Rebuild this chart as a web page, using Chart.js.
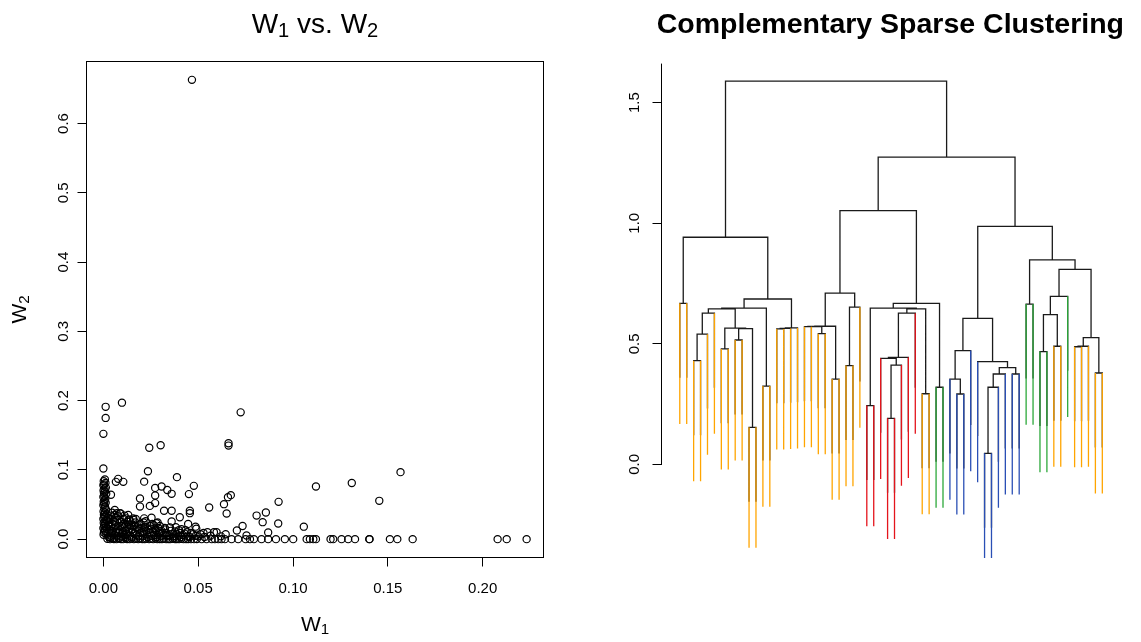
<!DOCTYPE html>
<html>
<head>
<meta charset="utf-8">
<title>W1 vs. W2 / Complementary Sparse Clustering</title>
<script src="https://cdn.jsdelivr.net/npm/chart.js@4.4.1/dist/chart.umd.min.js"></script>
<style>
  html, body { margin: 0; padding: 0; background: #fff; }
  #wrap { position: relative; width: 1141px; height: 642px; }
  #wrap canvas { position: absolute; left: 0; top: 0; }
</style>
</head>
<body>
<div id="wrap">
  <canvas id="scatterChart" width="1141" height="642"></canvas>
  <canvas id="dendroChart" width="1141" height="642"></canvas>
</div>
<script>
const FONT = '"Liberation Sans", Arial, Helvetica, sans-serif';

// feature weights as [W1, W2] pairs
const spreadPts = [
  [0.0467, 0.663], [0.0012, 0.191], [0.0012, 0.175], [0.0000, 0.152], [0.0098, 0.197],
  [0.0000, 0.102], [0.0242, 0.132], [0.0302, 0.1356], [0.0724, 0.183], [0.0660, 0.1385],
  [0.0660, 0.135], [0.0235, 0.098], [0.0388, 0.0895], [0.0078, 0.087], [0.0066, 0.0827],
  [0.0105, 0.0827], [0.0215, 0.083], [0.0477, 0.0769], [0.0273, 0.074], [0.0307, 0.076],
  [0.0337, 0.071], [0.0360, 0.0654], [0.0451, 0.065], [0.0273, 0.063], [0.0040, 0.064],
  [0.0672, 0.0635], [0.0657, 0.0606], [0.1121, 0.076], [0.1310, 0.081], [0.1455, 0.0553],
  [0.1567, 0.0967], [0.0193, 0.0586], [0.0193, 0.047], [0.0245, 0.048], [0.0273, 0.052],
  [0.0320, 0.041], [0.0360, 0.041], [0.0456, 0.041], [0.0456, 0.0375], [0.0558, 0.0456],
  [0.0636, 0.0505], [0.0650, 0.037], [0.0924, 0.0538], [0.0857, 0.0384], [0.0808, 0.034],
  [0.0840, 0.0245], [0.0922, 0.0225], [0.1057, 0.018], [0.0734, 0.019], [0.0704, 0.0124],
  [0.0869, 0.0095], [0.0755, 0.0052], [0.0583, 0.0101], [0.0597, 0.0101], [0.0403, 0.0317],
  [0.0360, 0.0254], [0.0447, 0.022], [0.0486, 0.018], [0.0490, 0.0149], [0.0412, 0.0144],
  [0.0382, 0.0173], [0.0254, 0.031], [0.0215, 0.030], [0.0280, 0.023], [0.0157, 0.030],
  [0.0136, 0.028], [0.0060, 0.042], [0.0070, 0.0375], [0.0087, 0.0375], [0.0298, 0.019],
  [0.0324, 0.016], [0.0219, 0.018]
];
const nearW1Zero = [
  [0.0008, 0.0862], [0.0002, 0.0835], [0.0011, 0.0812], [0.0004, 0.0791], [0.0000, 0.0779],
  [0.0013, 0.0744], [0.0006, 0.0731], [0.0001, 0.0702], [0.0009, 0.0686], [0.0003, 0.0668],
  [0.0015, 0.0655], [0.0005, 0.0621], [0.0000, 0.0607], [0.0010, 0.0583], [0.0007, 0.0559],
  [0.0002, 0.0541], [0.0012, 0.0527], [0.0004, 0.0512], [0.0000, 0.0489], [0.0009, 0.0466],
  [0.0006, 0.0441], [0.0014, 0.0423], [0.0001, 0.0398], [0.0008, 0.0385], [0.0003, 0.0352],
  [0.0011, 0.0337], [0.0005, 0.0316], [0.0000, 0.0291], [0.0016, 0.0276], [0.0007, 0.0258],
  [0.0002, 0.0233], [0.0010, 0.0219], [0.0004, 0.0194], [0.0013, 0.0181], [0.0000, 0.0157],
  [0.0006, 0.0139], [0.0009, 0.0118], [0.0003, 0.0096], [0.0012, 0.0081], [0.0001, 0.0063]
];
const lowCluster = [
  [0.0025, 0.031], [0.0031, 0.024], [0.0038, 0.018], [0.0044, 0.011], [0.0052, 0.027],
  [0.0058, 0.006], [0.0063, 0.020], [0.0071, 0.014], [0.0077, 0.033], [0.0083, 0.009],
  [0.0089, 0.025], [0.0094, 0.004], [0.0101, 0.017], [0.0108, 0.029], [0.0113, 0.012],
  [0.0119, 0.022], [0.0124, 0.007], [0.0131, 0.035], [0.0137, 0.015], [0.0142, 0.026],
  [0.0149, 0.003], [0.0155, 0.010], [0.0161, 0.019], [0.0168, 0.024], [0.0174, 0.006],
  [0.0181, 0.013], [0.0187, 0.021], [0.0193, 0.009], [0.0201, 0.016], [0.0208, 0.004],
  [0.0214, 0.011], [0.0223, 0.026], [0.0231, 0.007], [0.0238, 0.014], [0.0246, 0.019],
  [0.0254, 0.005], [0.0263, 0.010], [0.0272, 0.015], [0.0281, 0.003], [0.0293, 0.008],
  [0.0306, 0.012], [0.0318, 0.006], [0.0332, 0.009], [0.0347, 0.004], [0.0361, 0.007],
  [0.0379, 0.011], [0.0394, 0.005], [0.0411, 0.003], [0.0428, 0.008], [0.0446, 0.004],
  [0.0017, 0.015], [0.0022, 0.008], [0.0028, 0.003], [0.0046, 0.038], [0.0036, 0.029],
  [0.0064, 0.031], [0.0091, 0.037], [0.0105, 0.022], [0.0054, 0.016], [0.0078, 0.019],
  [0.0122, 0.030], [0.0135, 0.021], [0.0158, 0.028], [0.0176, 0.017], [0.0197, 0.022],
  [0.0219, 0.017], [0.0244, 0.010], [0.0266, 0.020], [0.0289, 0.016], [0.0301, 0.004],
  [0.0325, 0.014], [0.0356, 0.012], [0.0372, 0.002], [0.0404, 0.009], [0.0433, 0.013],
  [0.0461, 0.009], [0.0487, 0.005], [0.0512, 0.007], [0.0533, 0.003], [0.0549, 0.010],
  [0.0565, 0.005], [0.0620, 0.004], [0.0645, 0.007], [0.0033, 0.012], [0.0041, 0.005],
  [0.0057, 0.002], [0.0069, 0.009], [0.0086, 0.013], [0.0098, 0.008], [0.0116, 0.003],
  [0.0030, 0.021], [0.0042, 0.034], [0.0049, 0.022], [0.0061, 0.025], [0.0066, 0.011],
  [0.0074, 0.005], [0.0080, 0.028], [0.0096, 0.019], [0.0103, 0.010], [0.0111, 0.034],
  [0.0127, 0.018], [0.0133, 0.010], [0.0145, 0.020], [0.0152, 0.014], [0.0164, 0.008],
  [0.0171, 0.029], [0.0185, 0.004], [0.0190, 0.015], [0.0205, 0.010], [0.0212, 0.024],
  [0.0226, 0.012], [0.0235, 0.003], [0.0249, 0.015], [0.0258, 0.022], [0.0269, 0.006],
  [0.0277, 0.012], [0.0286, 0.024], [0.0296, 0.011], [0.0312, 0.009], [0.0338, 0.006],
  [0.0351, 0.017], [0.0368, 0.004], [0.0385, 0.008], [0.0398, 0.013], [0.0418, 0.006],
  [0.0441, 0.010], [0.0455, 0.003], [0.0472, 0.007], [0.0502, 0.004], [0.0528, 0.009],
  [0.0018, 0.036], [0.0020, 0.027], [0.0026, 0.019], [0.0039, 0.002], [0.0047, 0.009],
  [0.0060, 0.035], [0.0084, 0.002], [0.0112, 0.006], [0.0128, 0.025], [0.0141, 0.005]
];
const nearW2Zero = [
  [0.0021, 0.0006], [0.0035, 0.0000], [0.0048, 0.0011], [0.0056, 0.0002], [0.0069, 0.0000],
  [0.0081, 0.0009], [0.0093, 0.0001], [0.0104, 0.0000], [0.0117, 0.0012], [0.0125, 0.0003],
  [0.0138, 0.0000], [0.0149, 0.0008], [0.0161, 0.0000], [0.0172, 0.0005], [0.0184, 0.0000],
  [0.0193, 0.0010], [0.0206, 0.0002], [0.0218, 0.0000], [0.0227, 0.0007], [0.0241, 0.0000],
  [0.0252, 0.0004], [0.0263, 0.0000], [0.0276, 0.0009], [0.0284, 0.0000], [0.0297, 0.0003],
  [0.0309, 0.0000], [0.0318, 0.0006], [0.0331, 0.0000], [0.0343, 0.0002], [0.0352, 0.0000],
  [0.0366, 0.0005], [0.0378, 0.0000], [0.0387, 0.0001], [0.0399, 0.0000], [0.0411, 0.0004],
  [0.0423, 0.0000], [0.0436, 0.0000], [0.0447, 0.0002], [0.0462, 0.0000], [0.0478, 0.0000],
  [0.0493, 0.0001], [0.0518, 0.0000], [0.0544, 0.0000], [0.0571, 0.0000], [0.0588, 0.0000],
  [0.0606, 0.0000], [0.0623, 0.0000], [0.0641, 0.0000], [0.0676, 0.0000], [0.0711, 0.0000],
  [0.0750, 0.0000], [0.0773, 0.0000], [0.0794, 0.0000], [0.0834, 0.0000], [0.0869, 0.0000],
  [0.0910, 0.0000], [0.0957, 0.0000], [0.1001, 0.0000], [0.1072, 0.0000], [0.1089, 0.0000],
  [0.1107, 0.0000], [0.1121, 0.0000], [0.1198, 0.0000], [0.1212, 0.0000], [0.1256, 0.0000],
  [0.1291, 0.0000], [0.1327, 0.0000], [0.1402, 0.0000], [0.1404, 0.0000], [0.1511, 0.0000],
  [0.1550, 0.0000], [0.1631, 0.0000], [0.2079, 0.0000], [0.2127, 0.0000], [0.2232, 0.0000]
];

const w1Ticks = [0, 0.05, 0.10, 0.15, 0.20];
const w1TickLabels = ['0.00', '0.05', '0.10', '0.15', '0.20'];
const w2Ticks = [0, 0.1, 0.2, 0.3, 0.4, 0.5, 0.6];
const w2TickLabels = ['0.0', '0.1', '0.2', '0.3', '0.4', '0.5', '0.6'];

// hclust style merges: negative = leaf (plot order), positive = earlier merge row
const treeMerge = [
  [-1, -2], [-3, -4], [2, -5], [3, -6], [-7, -8], [-9, -10], [-11, -12], [6, 7], [5, 8], [-13, -14],
  [4, 9], [11, 10], [-15, -16], [13, -17], [14, -18], [12, 15], [1, 16], [-19, -20], [-21, -22], [18, 19],
  [-23, -24], [20, 21], [-25, -26], [23, -27], [22, 24], [-28, -29], [-31, -32], [27, -33], [-30, 28], [29, -34],
  [30, -35], [-36, -37], [31, 32], [26, 33], [-38, -39], [34, 35], [25, 36], [-41, -42], [-40, 38], [39, -43],
  [-45, -46], [41, -47], [42, -48], [-49, -50], [43, 44], [-44, 45], [40, 46], [-51, -52], [-53, -54], [-55, -56],
  [49, 50], [51, -57], [-58, -59], [53, -60], [-61, -62], [54, 55], [52, 56], [48, 57], [47, 58], [37, 59],
  [17, 60]
];
const mergeHeight = [
  0.668, 0.430, 0.540, 0.627, 0.479, 0.516, 0.154, 0.563, 0.565, 0.325,
  0.645, 0.648, 0.562, 0.564, 0.566, 0.686, 0.942, 0.571, 0.542, 0.572,
  0.354, 0.573, 0.410, 0.652, 0.710, 0.244, 0.191, 0.412, 0.440, 0.444,
  0.627, 0.293, 0.645, 0.648, 0.320, 0.668, 1.052, 0.292, 0.354, 0.472,
  0.046, 0.320, 0.375, 0.375, 0.401, 0.426, 0.606, 0.665, 0.468, 0.490,
  0.621, 0.697, 0.488, 0.490, 0.379, 0.526, 0.809, 0.848, 0.987, 1.274,
  1.589
];
// class of each leaf, left to right
const leafGroup = ('OOOOOOOOOO' + 'OOOOOOOOOO' + 'OOOOOOO' + 'RRRRRRRR' + 'OOGG' +
                   'BBBBBBBBBBB' + 'GGGGOOG' + 'OOOOO').split('');
const groupColor = { O: '#FFA500', R: '#E4141C', G: '#2CA83A', B: '#2A4FB5' };
const heightTicks = [0, 0.5, 1.0, 1.5];
const heightTickLabels = ['0.0', '0.5', '1.0', '1.5'];
const hangFrac = 0.2;
const branchLength = 0.5;

// text with plotmath-like subscripts; parts = [text, isSub]
function drawSub(ctx, parts, cx, base, size, weight, angle) {
  ctx.save();
  ctx.translate(cx, base);
  ctx.rotate(angle || 0);
  const fontFor = sub => `${weight} ${sub ? size * 0.72 : size}px ${FONT}`;
  const widths = parts.map(([t, sub]) => { ctx.font = fontFor(sub); return ctx.measureText(t).width; });
  let x = -widths.reduce((s, w) => s + w, 0) / 2;
  ctx.textAlign = 'left';
  ctx.textBaseline = 'alphabetic';
  parts.forEach(([t, sub], i) => {
    ctx.font = fontFor(sub);
    ctx.fillText(t, x, sub ? size * 0.12 : 0);
    x += widths[i];
  });
  ctx.restore();
}

function rotatedLabel(ctx, text, x, y) {
  ctx.save();
  ctx.translate(x, y);
  ctx.rotate(-Math.PI / 2);
  ctx.fillText(text, 0, 0);
  ctx.restore();
}

// ---------- left: scatter ----------
const toXY = pts => pts.map(([x, y]) => ({ x, y }));
const scatterPts = toXY([].concat(spreadPts, nearW1Zero, lowCluster, nearW2Zero));

const scatterDecor = {
  id: 'scatterDecor',
  afterDraw(chart) {
    const { ctx, chartArea: a, scales: { x, y } } = chart;
    ctx.save();
    ctx.strokeStyle = '#000';
    ctx.lineWidth = 1;
    ctx.strokeRect(a.left, a.top, a.right - a.left, a.bottom - a.top);
    ctx.fillStyle = '#000';
    ctx.font = `15px ${FONT}`;
    ctx.textAlign = 'center';
    ctx.textBaseline = 'alphabetic';
    w1Ticks.forEach((v, i) => ctx.fillText(w1TickLabels[i], x.getPixelForValue(v), 593));
    w2Ticks.forEach((v, i) => rotatedLabel(ctx, w2TickLabels[i], 67.5, y.getPixelForValue(v)));
    const cx = (a.left + a.right) / 2;
    drawSub(ctx, [['W', 0], ['1', 1], [' vs. ', 0], ['W', 0], ['2', 1]], cx, 33.3, 28, 'normal');
    drawSub(ctx, [['W', 0], ['1', 1]], cx, 631, 21, 'normal');
    drawSub(ctx, [['W', 0], ['2', 1]], 26, (a.top + a.bottom) / 2, 21, 'normal', -Math.PI / 2);
    ctx.restore();
  }
};

new Chart(document.getElementById('scatterChart'), {
  type: 'scatter',
  data: {
    datasets: [{
      data: scatterPts,
      pointRadius: 3.6,
      pointHoverRadius: 3.6,
      borderWidth: 1.2,
      pointBorderWidth: 1.2,
      borderColor: '#000',
      pointBorderColor: '#000',
      backgroundColor: 'rgba(0,0,0,0)',
      pointBackgroundColor: 'rgba(0,0,0,0)'
    }]
  },
  options: {
    responsive: false,
    animation: false,
    events: [],
    layout: { padding: { left: 0, top: 61.5, right: 597.5, bottom: 0 } },
    plugins: { legend: { display: false }, tooltip: { enabled: false } },
    scales: {
      x: {
        type: 'linear', min: -0.0089, max: 0.2321,
        afterBuildTicks: s => { s.ticks = w1Ticks.map(v => ({ value: v })); },
        afterFit: s => { s.height = 84.5; },
        ticks: { display: false },
        grid: { drawOnChartArea: false, drawTicks: true, tickLength: 9, color: '#000' },
        border: { display: false }
      },
      y: {
        type: 'linear', min: -0.0265, max: 0.6895,
        afterBuildTicks: s => { s.ticks = w2Ticks.map(v => ({ value: v })); },
        afterFit: s => { s.width = 86.5; },
        ticks: { display: false },
        grid: { drawOnChartArea: false, drawTicks: true, tickLength: 9, color: '#000' },
        border: { display: false }
      }
    }
  },
  plugins: [scatterDecor]
});

// ---------- right: dendrogram ----------
const mergeX = [];
const leafParentH = [];
const posOf = c => (c < 0 ? -c : mergeX[c - 1]);
treeMerge.forEach(([a, b], i) => {
  mergeX[i] = (posOf(a) + posOf(b)) / 2;
  [a, b].forEach(c => { if (c < 0) leafParentH[-c] = mergeHeight[i]; });
});
const hang = hangFrac * (Math.max(...mergeHeight) - Math.min(...mergeHeight));

const treeSegs = [];
treeMerge.forEach(([a, b], i) => {
  const h = mergeHeight[i];
  const foot = c => (c < 0 ? h - hang : mergeHeight[c - 1]);
  treeSegs.push(
    { x: posOf(a), y: foot(a) }, { x: posOf(a), y: h },
    { x: posOf(b), y: h }, { x: posOf(b), y: foot(b) },
    { x: posOf(b), y: null }
  );
});

const leafSegs = {};
leafGroup.forEach((g, k) => {
  const leaf = k + 1;
  const h = leafParentH[leaf];
  (leafSegs[g] = leafSegs[g] || []).push(
    { x: leaf, y: h }, { x: leaf, y: h - branchLength }, { x: leaf, y: null }
  );
});

const lineSet = (data, color, width, order) => ({
  data, showLine: true, spanGaps: false, pointRadius: 0, pointHoverRadius: 0,
  borderColor: color, borderWidth: width, clip: 0, order
});

const dendroDecor = {
  id: 'dendroDecor',
  afterDraw(chart) {
    const { ctx, chartArea: a, scales: { y } } = chart;
    ctx.save();
    ctx.strokeStyle = '#000';
    ctx.lineWidth = 1;
    ctx.beginPath();
    ctx.moveTo(a.left, y.getPixelForValue(0));
    ctx.lineTo(a.left, a.top);
    ctx.stroke();
    ctx.fillStyle = '#000';
    ctx.font = `15px ${FONT}`;
    ctx.textAlign = 'center';
    ctx.textBaseline = 'alphabetic';
    heightTicks.forEach((v, i) => rotatedLabel(ctx, heightTickLabels[i], 638.5, y.getPixelForValue(v)));
    ctx.font = `bold 28.5px ${FONT}`;
    ctx.fillText('Complementary Sparse Clustering', 890.4, 33.3);
    ctx.restore();
  }
};

new Chart(document.getElementById('dendroChart'), {
  type: 'scatter',
  data: {
    datasets: Object.keys(leafSegs).map(g => lineSet(leafSegs[g], groupColor[g], 1.3, 0))
      .concat([lineSet(treeSegs, '#1a1a1a', 1.3, 1)])
  },
  options: {
    responsive: false,
    animation: false,
    events: [],
    layout: { padding: { left: 0, top: 63.6, right: 21, bottom: 84 } },
    plugins: { legend: { display: false }, tooltip: { enabled: false } },
    scales: {
      x: { type: 'linear', min: -1.639, max: 64.553, display: false },
      y: {
        type: 'linear', min: -0.388, max: 1.662,
        afterBuildTicks: s => { s.ticks = heightTicks.map(v => ({ value: v })); },
        afterFit: s => { s.width = 661.5; },
        ticks: { display: false },
        grid: { drawOnChartArea: false, drawTicks: true, tickLength: 9, color: '#000' },
        border: { display: false }
      }
    }
  },
  plugins: [dendroDecor]
});
</script>
</body>
</html>
